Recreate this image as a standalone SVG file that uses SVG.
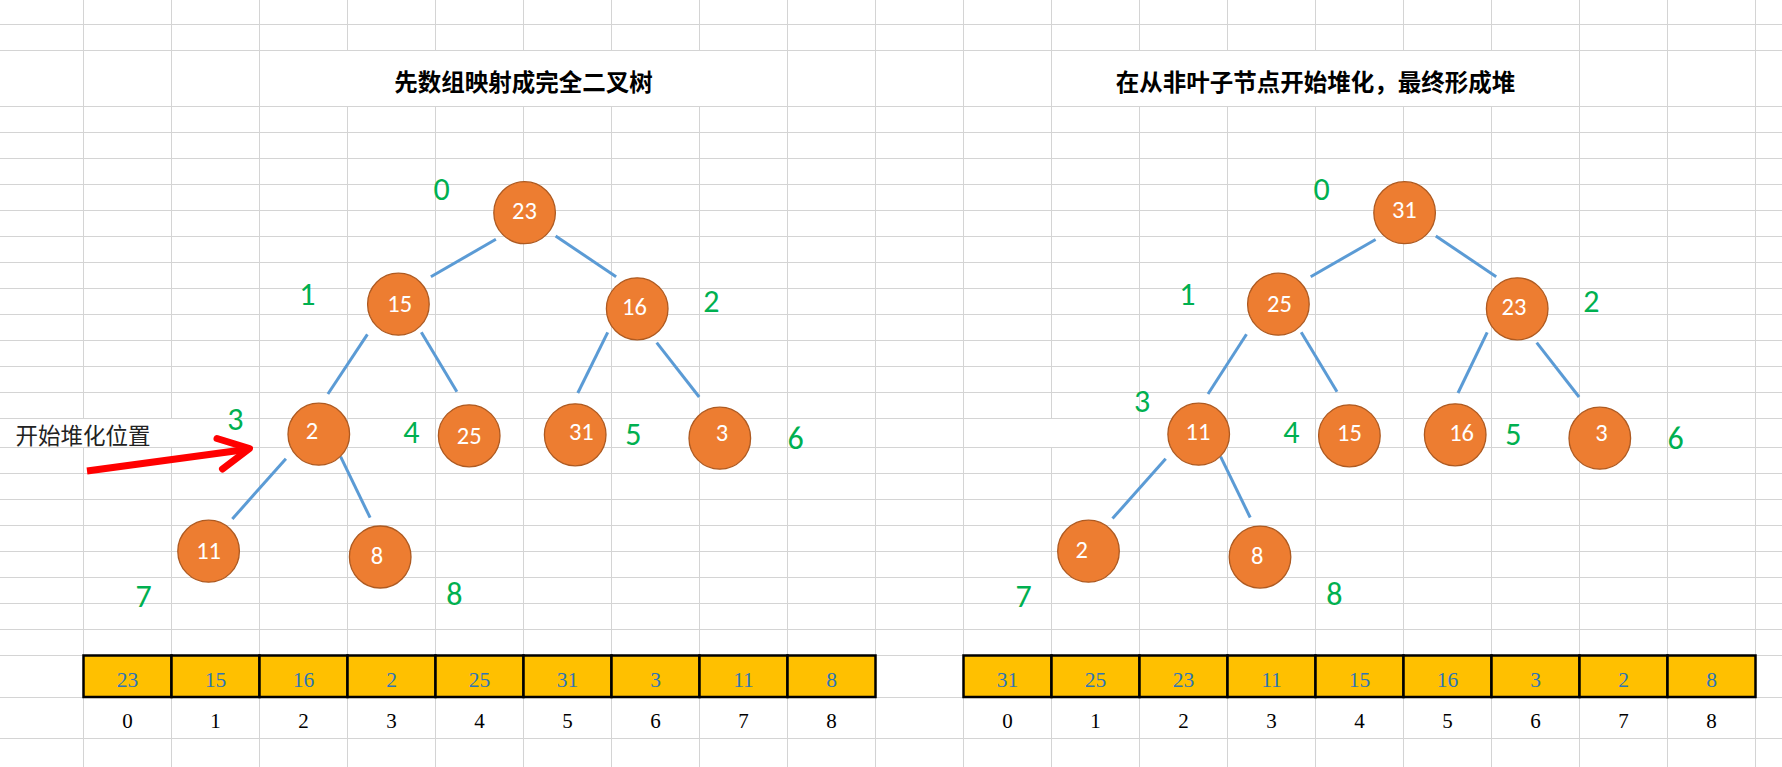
<svg xmlns="http://www.w3.org/2000/svg" width="1782" height="767" viewBox="0 0 1782 767">
<style>
.grid{stroke:#d4d4d4;stroke-width:1;fill:none}
.edge{stroke:#5b9bd5;stroke-width:3;fill:none}
.node ellipse{fill:#ed7d31;stroke:#ae5a21;stroke-width:1.3}
.node text{fill:#ffffff;font-family:Carlito,Lato,sans-serif;font-size:24.5px;text-anchor:middle}
.idx{fill:#00b050;font-family:Carlito,Lato,sans-serif;font-size:32px;text-anchor:middle}
.cell{fill:#ffc000;stroke:#000;stroke-width:2.5}
.val{fill:#2e75b6;font-family:"Liberation Serif",serif;font-size:21.5px;text-anchor:middle}
.num{fill:#000;font-family:"Liberation Serif",serif;font-size:21px;text-anchor:middle}
.title{fill:#000;font-family:"Noto Sans CJK SC",sans-serif;font-size:23.5px;font-weight:bold;text-anchor:middle}
.note{fill:#222;font-family:"Noto Sans CJK SC",sans-serif;font-size:22.5px}
.arrow{stroke:#ff0000;stroke-width:7;fill:none}
</style>
<rect width="1782" height="767" fill="#ffffff"/>
<g id="grid">
<path class="grid" d="M0 24.5H1782M0 50.5H1782M0 106.5H1782M0 132.5H1782M0 158.5H1782M0 184.5H1782M0 210.5H1782M0 236.5H1782M0 262.5H1782M0 288.5H1782M0 314.5H1782M0 340.5H1782M0 366.5H1782M0 392.5H1782M0 418.5H1782M0 447.5H1782M0 473.5H1782M0 499.5H1782M0 525.5H1782M0 551.5H1782M0 577.5H1782M0 603.5H1782M0 629.5H1782M0 655.5H1782M0 697.5H1782M0 738.5H1782"/>
<path class="grid" d="M83.5 0V418.5M83.5 447.5V767M171.5 0V418.5M171.5 447.5V767M259.5 0V767M347.5 0V50.5M347.5 106.5V767M435.5 0V50.5M435.5 106.5V767M523.5 0V50.5M523.5 106.5V767M611.5 0V50.5M611.5 106.5V767M699.5 0V50.5M699.5 106.5V767M787.5 0V767M875.5 0V767M963.5 0V767M1051.5 0V418.5M1051.5 447.5V767M1139.5 0V50.5M1139.5 106.5V767M1227.5 0V50.5M1227.5 106.5V767M1315.5 0V50.5M1315.5 106.5V767M1403.5 0V50.5M1403.5 106.5V767M1491.5 0V50.5M1491.5 106.5V767M1579.5 0V767M1667.5 0V767M1755.5 0V767"/>
</g>
<g id="titles">
<text class="title" x="523.5" y="90.5">先数组映射成完全二叉树</text>
<text class="title" x="1315.5" y="90.5">在从非叶子节点开始堆化，最终形成堆</text>
</g>
<g id="connectors">
<line class="edge" x1="495.9" y1="239.3" x2="430.9" y2="276.7"/>
<line class="edge" x1="555.6" y1="236" x2="616.1" y2="276.7"/>
<line class="edge" x1="367.4" y1="334.3" x2="327.9" y2="394"/>
<line class="edge" x1="421.3" y1="332.3" x2="456.9" y2="391.7"/>
<line class="edge" x1="607.7" y1="332.3" x2="577.8" y2="393"/>
<line class="edge" x1="656.7" y1="342.7" x2="699.2" y2="397"/>
<line class="edge" x1="285.9" y1="458.7" x2="232.3" y2="519"/>
<line class="edge" x1="340.6" y1="456.7" x2="370.1" y2="517.7"/>
<line class="edge" x1="1375.6" y1="239.5" x2="1310.7" y2="276.7"/>
<line class="edge" x1="1435.8" y1="236" x2="1496.2" y2="276.7"/>
<line class="edge" x1="1246.5" y1="334.3" x2="1208" y2="394"/>
<line class="edge" x1="1301.2" y1="332.3" x2="1337" y2="391.7"/>
<line class="edge" x1="1487.2" y1="332.3" x2="1458" y2="393"/>
<line class="edge" x1="1536.7" y1="342.7" x2="1579.1" y2="397"/>
<line class="edge" x1="1165.7" y1="458.8" x2="1112.5" y2="518.6"/>
<line class="edge" x1="1220.6" y1="456.7" x2="1250.2" y2="517.5"/>
</g>
<g id="arrow">
<line class="arrow" x1="87" y1="471" x2="246" y2="449.5"/>
<polyline class="arrow" points="217,438.5 249.5,448.5 222.5,469" stroke-linecap="round" stroke-linejoin="round"/>
<text class="note" x="15.5" y="443.5">开始堆化位置</text>
</g>
<g id="left-tree">
<g id="L0" class="node"><ellipse cx="524.6" cy="212.7" rx="30.8" ry="31"/><text x="524.4" y="218.9">23</text></g>
<g id="L1" class="node"><ellipse cx="398.4" cy="304.2" rx="30.8" ry="31"/><text x="399.7" y="312.4">15</text></g>
<g id="L2" class="node"><ellipse cx="637.2" cy="308.8" rx="30.8" ry="31"/><text x="634.5" y="314.7">16</text></g>
<g id="L3" class="node"><ellipse cx="318.8" cy="434.2" rx="30.8" ry="31"/><text x="312" y="438.9">2</text></g>
<g id="L4" class="node"><ellipse cx="469.2" cy="435.8" rx="30.8" ry="31"/><text x="469.2" y="443.5">25</text></g>
<g id="L5" class="node"><ellipse cx="575.2" cy="434.8" rx="30.8" ry="31"/><text x="581.3" y="440.2">31</text></g>
<g id="L6" class="node"><ellipse cx="719.8" cy="438.2" rx="30.8" ry="31"/><text x="721.9" y="440.9">3</text></g>
<g id="L7" class="node"><ellipse cx="208.6" cy="551.2" rx="30.8" ry="31"/><text x="208.6" y="558.5">11</text></g>
<g id="L8" class="node"><ellipse cx="380.2" cy="557" rx="30.8" ry="31"/><text x="377" y="564">8</text></g>
</g>
<g id="right-tree">
<g id="R0" class="node"><ellipse cx="1404.6" cy="212.7" rx="30.8" ry="31"/><text x="1404.3" y="218">31</text></g>
<g id="R1" class="node"><ellipse cx="1278.4" cy="304.2" rx="30.8" ry="31"/><text x="1279.4" y="311.9">25</text></g>
<g id="R2" class="node"><ellipse cx="1517.2" cy="308.8" rx="30.8" ry="31"/><text x="1514" y="314.7">23</text></g>
<g id="R3" class="node"><ellipse cx="1198.7" cy="434.2" rx="30.8" ry="31"/><text x="1198" y="439.7">11</text></g>
<g id="R4" class="node"><ellipse cx="1349.4" cy="435.8" rx="30.8" ry="31"/><text x="1349.4" y="441.2">15</text></g>
<g id="R5" class="node"><ellipse cx="1455.2" cy="434.8" rx="30.8" ry="31"/><text x="1461.6" y="440.7">16</text></g>
<g id="R6" class="node"><ellipse cx="1599.8" cy="438.2" rx="30.8" ry="31"/><text x="1601.4" y="441">3</text></g>
<g id="R7" class="node"><ellipse cx="1088.5" cy="551.2" rx="30.8" ry="31"/><text x="1081.7" y="558.4">2</text></g>
<g id="R8" class="node"><ellipse cx="1260" cy="557.1" rx="30.8" ry="31"/><text x="1257.2" y="564">8</text></g>
</g>
<g id="index-labels">
<text class="idx" x="441.6" y="200.4">0</text>
<text class="idx" x="307.3" y="305.4">1</text>
<text class="idx" x="711.4" y="311.8">2</text>
<text class="idx" x="235.4" y="429.8">3</text>
<text class="idx" x="411.4" y="442.6">4</text>
<text class="idx" x="633.3" y="445.4">5</text>
<text class="idx" x="795.6" y="449.4">6</text>
<text class="idx" x="143.5" y="607.3">7</text>
<text class="idx" x="454.3" y="604.6">8</text>
<text class="idx" x="1321.6" y="200.4">0</text>
<text class="idx" x="1187.3" y="305.4">1</text>
<text class="idx" x="1591.4" y="311.8">2</text>
<text class="idx" x="1142" y="411.8">3</text>
<text class="idx" x="1291.4" y="442.6">4</text>
<text class="idx" x="1513.3" y="445.4">5</text>
<text class="idx" x="1675.6" y="449.4">6</text>
<text class="idx" x="1023.5" y="607.3">7</text>
<text class="idx" x="1334.3" y="604.6">8</text>
</g>
<g id="left-array">
<rect class="cell" x="83.5" y="655.5" width="88" height="41.5"/>
<rect class="cell" x="171.5" y="655.5" width="88" height="41.5"/>
<rect class="cell" x="259.5" y="655.5" width="88" height="41.5"/>
<rect class="cell" x="347.5" y="655.5" width="88" height="41.5"/>
<rect class="cell" x="435.5" y="655.5" width="88" height="41.5"/>
<rect class="cell" x="523.5" y="655.5" width="88" height="41.5"/>
<rect class="cell" x="611.5" y="655.5" width="88" height="41.5"/>
<rect class="cell" x="699.5" y="655.5" width="88" height="41.5"/>
<rect class="cell" x="787.5" y="655.5" width="88" height="41.5"/>
<text class="val" x="127.5" y="687">23</text>
<text class="val" x="215.5" y="687">15</text>
<text class="val" x="303.5" y="687">16</text>
<text class="val" x="391.5" y="687">2</text>
<text class="val" x="479.5" y="687">25</text>
<text class="val" x="567.5" y="687">31</text>
<text class="val" x="655.5" y="687">3</text>
<text class="val" x="743.5" y="687">11</text>
<text class="val" x="831.5" y="687">8</text>
<text class="num" x="127.5" y="727.5">0</text>
<text class="num" x="215.5" y="727.5">1</text>
<text class="num" x="303.5" y="727.5">2</text>
<text class="num" x="391.5" y="727.5">3</text>
<text class="num" x="479.5" y="727.5">4</text>
<text class="num" x="567.5" y="727.5">5</text>
<text class="num" x="655.5" y="727.5">6</text>
<text class="num" x="743.5" y="727.5">7</text>
<text class="num" x="831.5" y="727.5">8</text>
</g>
<g id="right-array">
<rect class="cell" x="963.5" y="655.5" width="88" height="41.5"/>
<rect class="cell" x="1051.5" y="655.5" width="88" height="41.5"/>
<rect class="cell" x="1139.5" y="655.5" width="88" height="41.5"/>
<rect class="cell" x="1227.5" y="655.5" width="88" height="41.5"/>
<rect class="cell" x="1315.5" y="655.5" width="88" height="41.5"/>
<rect class="cell" x="1403.5" y="655.5" width="88" height="41.5"/>
<rect class="cell" x="1491.5" y="655.5" width="88" height="41.5"/>
<rect class="cell" x="1579.5" y="655.5" width="88" height="41.5"/>
<rect class="cell" x="1667.5" y="655.5" width="88" height="41.5"/>
<text class="val" x="1007.5" y="687">31</text>
<text class="val" x="1095.5" y="687">25</text>
<text class="val" x="1183.5" y="687">23</text>
<text class="val" x="1271.5" y="687">11</text>
<text class="val" x="1359.5" y="687">15</text>
<text class="val" x="1447.5" y="687">16</text>
<text class="val" x="1535.5" y="687">3</text>
<text class="val" x="1623.5" y="687">2</text>
<text class="val" x="1711.5" y="687">8</text>
<text class="num" x="1007.5" y="727.5">0</text>
<text class="num" x="1095.5" y="727.5">1</text>
<text class="num" x="1183.5" y="727.5">2</text>
<text class="num" x="1271.5" y="727.5">3</text>
<text class="num" x="1359.5" y="727.5">4</text>
<text class="num" x="1447.5" y="727.5">5</text>
<text class="num" x="1535.5" y="727.5">6</text>
<text class="num" x="1623.5" y="727.5">7</text>
<text class="num" x="1711.5" y="727.5">8</text>
</g>
</svg>
